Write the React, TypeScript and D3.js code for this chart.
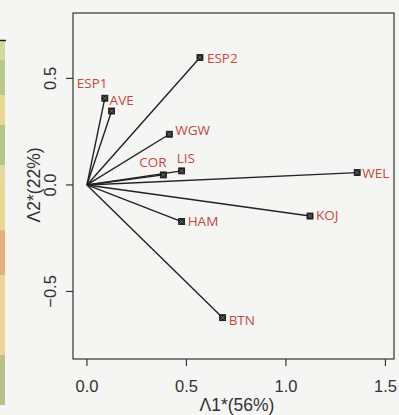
import React from "react";
import * as d3 from "d3";

const labels = ["ESP1", "AVE", "ESP2", "WGW", "COR", "LIS", "WEL", "KOJ", "HAM", "BTN"];
const dim1 = [0.09, 0.124, 0.568, 0.414, 0.384, 0.476, 1.358, 1.121, 0.476, 0.682];
const dim2 = [0.407, 0.347, 0.598, 0.238, 0.047, 0.066, 0.058, -0.146, -0.172, -0.623];
const xTicks = [0, 0.5, 1.0, 1.5];
const yTicks = [-0.5, 0, 0.5];
const xTitle = "\u039B1*(56%)";
const yTitle = "\u039B2*(22%)";

// label placement (layout, px offsets of text start/baseline from the point)
const labelDx = [-28, -2, 7, 6, -24, -5, 5, 6, 6, 6];
const labelDy = [-10, -6, 5, 1, -8, -8, 5, 4, 4, 7];

const stripColors = ["#d6d89c", "#b9c98b", "#e7d98f", "#b5c689", "#e3dc9c", "#e8d890", "#e6b27c", "#edd49a", "#b9c08a"];
const stripBreaks = [41, 60, 95, 125, 165, 180, 230, 275, 355, 405];

export default function App() {
  const W = 399, H = 415;
  const left = 73, right = 394, top = 13, bottom = 359;
  const x = d3.scaleLinear().domain([-0.07, 1.543]).range([left, right]);
  const y = d3.scaleLinear().domain([-0.817, 0.807]).range([bottom, top]);
  const red = "#c9463e";
  const ox = x(0), oy = y(0);
  return (
    <svg width={W} height={H} style={{ position: "absolute", left: 0, top: 0, background: "#f5f5f3" }}>
      <rect x={0} y={0} width={W} height={H} fill="#f5f5f3" />
      {stripColors.map((c, i) => (
        <rect key={i} x={0} y={stripBreaks[i]} width={5} height={stripBreaks[i + 1] - stripBreaks[i]} fill={c} />
      ))}
      <line x1={0} x2={6} y1={40.5} y2={40.5} stroke="#222" strokeWidth={1.5} />
      <rect x={left} y={top} width={right - left} height={bottom - top} fill="none" stroke="#333" strokeWidth={1.2} />
      {xTicks.map((t) => (
        <g key={t}>
          <line x1={x(t)} x2={x(t)} y1={bottom} y2={bottom + 7} stroke="#333" strokeWidth={1.2} />
          <text x={x(t)} y={392} textAnchor="middle" fontFamily="Liberation Sans, Arial" fontSize={16.5} fill="#333">
            {d3.format(".1f")(t)}
          </text>
        </g>
      ))}
      {yTicks.map((t) => (
        <g key={t}>
          <line x1={left - 7} x2={left} y1={y(t)} y2={y(t)} stroke="#333" strokeWidth={1.2} />
          <text
            transform={`translate(56,${y(t)}) rotate(-90)`}
            textAnchor="middle"
            fontFamily="Liberation Sans, Arial"
            fontSize={16.5}
            fill="#333"
          >
            {d3.format(".1f")(t)}
          </text>
        </g>
      ))}
      <text x={237} y={411} textAnchor="middle" fontFamily="Liberation Sans, Arial" fontSize={17.5} fill="#333">
        {xTitle}
      </text>
      <text
        transform={`translate(40,${oy}) rotate(-90)`}
        textAnchor="middle"
        fontFamily="Liberation Sans, Arial"
        fontSize={17.5}
        fill="#333"
      >
        {yTitle}
      </text>
      {labels.map((l, i) => (
        <line key={"l" + l} x1={ox} y1={oy} x2={x(dim1[i])} y2={y(dim2[i])} stroke="#222" strokeWidth={1.4} />
      ))}
      {labels.map((l, i) => {
        const px = x(dim1[i]), py = y(dim2[i]);
        return (
          <g key={"m" + l}>
            <rect x={px - 3} y={py - 3} width={6} height={6} fill="#222" stroke="#111" strokeWidth={0.8} />
            <path d={`M${px - 2},${py - 2}L${px + 2},${py + 2}M${px - 2},${py + 2}L${px + 2},${py - 2}`} stroke="#888" strokeWidth={0.7} />
          </g>
        );
      })}
      {labels.map((l, i) => (
        <text
          key={"t" + l}
          x={x(dim1[i]) + labelDx[i]}
          y={y(dim2[i]) + labelDy[i]}
          fontFamily="Open Sans, Liberation Sans"
          fontSize={13.5}
          fill={red}
        >
          {l}
        </text>
      ))}
    </svg>
  );
}
